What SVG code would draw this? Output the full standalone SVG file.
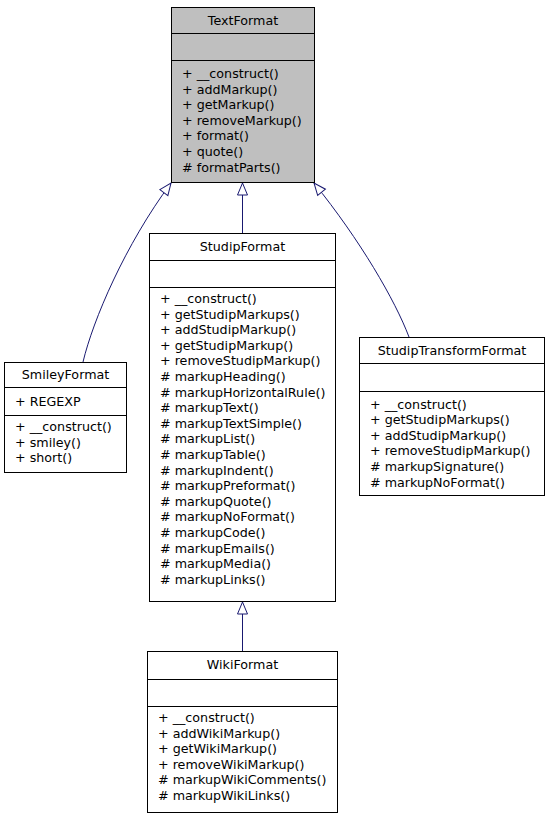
<svg xmlns="http://www.w3.org/2000/svg" width="549" height="819" viewBox="0 0 549 819">
<style>
.box{fill:#ffffff;stroke:#000000;stroke-width:1}
.base{fill:#bfbfbf}
.div{stroke:#000000;stroke-width:1}
text{font-family:"DejaVu Sans","Liberation Sans",sans-serif;font-size:12.7px;fill:#000000}
.t{text-anchor:middle}
.edge{fill:none;stroke:#191970;stroke-width:1}
</style>
<defs>
<marker id="inh" markerUnits="userSpaceOnUse" markerWidth="16" markerHeight="14" viewBox="-2 -2 16 14" refX="12" refY="5" orient="auto">
<path d="M0,0 L12,5 L0,10 Z" fill="#ffffff" stroke="#191970" stroke-width="1"/>
</marker>
</defs>
<rect width="549" height="819" fill="#ffffff"/>
<g id="connectors">
<path class="edge" d="M242.5,233 L242.5,183" marker-end="url(#inh)"/>
<path class="edge" d="M242.5,651 L242.5,602" marker-end="url(#inh)"/>
<path class="edge" d="M83,362 C93,320 125,245 171,183" marker-end="url(#inh)"/>
<path class="edge" d="M409,337 C395,300 360,240 314,183" marker-end="url(#inh)"/>
</g>
<g id="TextFormat">
<rect class="box base" x="171.5" y="7.5" width="143" height="175"/>
<line class="div" x1="171.5" y1="33.5" x2="314.5" y2="33.5"/>
<line class="div" x1="171.5" y1="60.5" x2="314.5" y2="60.5"/>
<text class="t" x="243" y="24.5">TextFormat</text>
<text x="182" y="78">+ __construct()</text>
<text x="182" y="93.6">+ addMarkup()</text>
<text x="182" y="109.2">+ getMarkup()</text>
<text x="182" y="124.8">+ removeMarkup()</text>
<text x="182" y="140.4">+ format()</text>
<text x="182" y="156">+ quote()</text>
<text x="182" y="171.6"># formatParts()</text>
</g>
<g id="StudipFormat">
<rect class="box" x="149.5" y="233.5" width="186" height="368"/>
<line class="div" x1="149.5" y1="260.5" x2="335.5" y2="260.5"/>
<line class="div" x1="149.5" y1="287.5" x2="335.5" y2="287.5"/>
<text class="t" x="242.5" y="251">StudipFormat</text>
<text x="160" y="303">+ __construct()</text>
<text x="160" y="318.6">+ getStudipMarkups()</text>
<text x="160" y="334.2">+ addStudipMarkup()</text>
<text x="160" y="349.8">+ getStudipMarkup()</text>
<text x="160" y="365.4">+ removeStudipMarkup()</text>
<text x="160" y="381"># markupHeading()</text>
<text x="160" y="396.6"># markupHorizontalRule()</text>
<text x="160" y="412.2"># markupText()</text>
<text x="160" y="427.8"># markupTextSimple()</text>
<text x="160" y="443.4"># markupList()</text>
<text x="160" y="459"># markupTable()</text>
<text x="160" y="474.6"># markupIndent()</text>
<text x="160" y="490.2"># markupPreformat()</text>
<text x="160" y="505.8"># markupQuote()</text>
<text x="160" y="521.4"># markupNoFormat()</text>
<text x="160" y="537"># markupCode()</text>
<text x="160" y="552.6"># markupEmails()</text>
<text x="160" y="568.2"># markupMedia()</text>
<text x="160" y="583.8"># markupLinks()</text>
</g>
<g id="SmileyFormat">
<rect class="box" x="4.5" y="362.5" width="122" height="110"/>
<line class="div" x1="4.5" y1="387.5" x2="126.5" y2="387.5"/>
<line class="div" x1="4.5" y1="415.5" x2="126.5" y2="415.5"/>
<text class="t" x="65.5" y="379">SmileyFormat</text>
<text x="15" y="405.5">+ REGEXP</text>
<text x="15" y="431">+ __construct()</text>
<text x="15" y="446.6">+ smiley()</text>
<text x="15" y="462.2">+ short()</text>
</g>
<g id="StudipTransformFormat">
<rect class="box" x="359.5" y="337.5" width="185" height="158"/>
<line class="div" x1="359.5" y1="363.5" x2="544.5" y2="363.5"/>
<line class="div" x1="359.5" y1="391.5" x2="544.5" y2="391.5"/>
<text class="t" x="452" y="354.5">StudipTransformFormat</text>
<text x="370" y="408.5">+ __construct()</text>
<text x="370" y="424.1">+ getStudipMarkups()</text>
<text x="370" y="439.7">+ addStudipMarkup()</text>
<text x="370" y="455.3">+ removeStudipMarkup()</text>
<text x="370" y="470.9"># markupSignature()</text>
<text x="370" y="486.5"># markupNoFormat()</text>
</g>
<g id="WikiFormat">
<rect class="box" x="147.5" y="651.5" width="190" height="161"/>
<line class="div" x1="147.5" y1="679.5" x2="337.5" y2="679.5"/>
<line class="div" x1="147.5" y1="706.5" x2="337.5" y2="706.5"/>
<text class="t" x="242.5" y="669">WikiFormat</text>
<text x="158" y="722">+ __construct()</text>
<text x="158" y="737.6">+ addWikiMarkup()</text>
<text x="158" y="753.2">+ getWikiMarkup()</text>
<text x="158" y="768.8">+ removeWikiMarkup()</text>
<text x="158" y="784.4"># markupWikiComments()</text>
<text x="158" y="800"># markupWikiLinks()</text>
</g>
</svg>
